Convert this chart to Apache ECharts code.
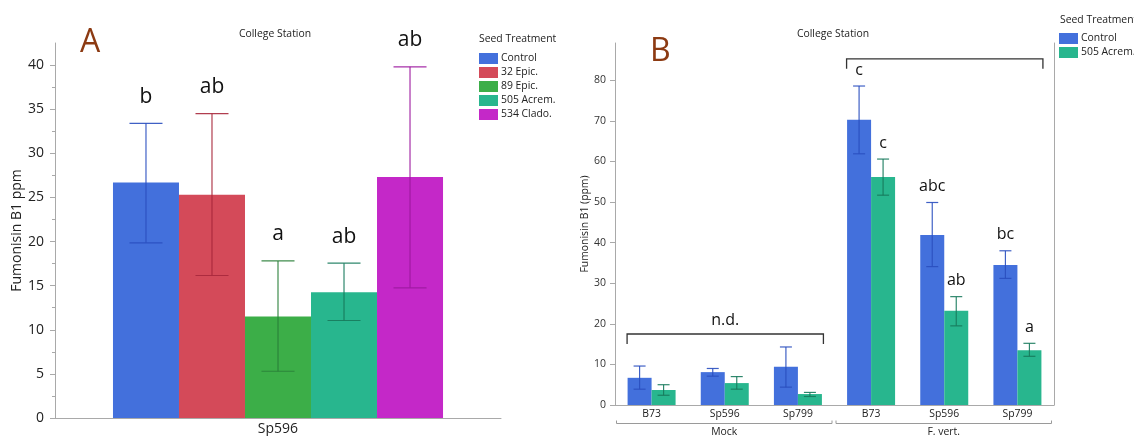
<!DOCTYPE html>
<html>
<head>
<meta charset="utf-8">
<script src="https://cdn.jsdelivr.net/npm/echarts@6/dist/echarts.min.js"></script>
<style>
  html, body { margin: 0; padding: 0; background: #fff; }
  #chart { width: 1134px; height: 436px; }
</style>
</head>
<body>
<div id="chart"></div>
<script>
// ---------- Panel A: hybrid Sp596, five seed treatments ----------
const hybridA = ['Sp596'];
const treatmentsA = ['Control', '32 Epic.', '89 Epic.', '505 Acrem.', '534 Clado.'];
const meanA  = [26.7, 25.3, 11.5, 14.25, 27.3];
const upperA = [33.4, 34.5, 17.8, 17.55, 39.8];
const lowerA = [19.85, 16.15, 5.3, 11.05, 14.75];
const lettersA = ['b', 'ab', 'a', 'ab', 'ab'];
const ticksA = [0, 5, 10, 15, 20, 25, 30, 35, 40];
const minorTicksA = [2.5, 7.5, 12.5, 17.5, 22.5, 27.5, 32.5, 37.5];

// ---------- Panel B: three hybrids, mock vs F. vert. inoculation ----------
const hybridsB = ['B73', 'Sp596', 'Sp799', 'B73', 'Sp596', 'Sp799'];
const treatmentsB = ['Control', '505 Acrem.'];
const controlB      = [6.7, 8.1, 9.4, 70.3, 41.9, 34.5];
const controlUpperB = [9.6, 9.0, 14.3, 78.6, 49.9, 38.0];
const controlLowerB = [3.9, 7.1, 4.4, 61.9, 34.1, 31.2];
const controlLettersB = ['', '', '', 'c', 'abc', 'bc'];
const acremB      = [3.7, 5.4, 2.7, 56.2, 23.2, 13.5];
const acremUpperB = [5.0, 7.0, 3.1, 60.6, 26.7, 15.2];
const acremLowerB = [2.4, 3.9, 2.1, 51.7, 19.5, 12.0];
const acremLettersB = ['', '', '', 'c', 'ab', 'a'];
const ticksB = [0, 10, 20, 30, 40, 50, 60, 70, 80];
// group brackets under the category axis
const groupNamesB = ['Mock', 'F. vert.'];
const groupStartB = [0, 3];
const groupEndB   = [2, 5];
// significance brackets above the bars
const bracketStartB = [0, 3];
const bracketEndB   = [2, 5];
const bracketLevelB = [17.5, 85.3];
const bracketTextB  = ['n.d.', ''];

// ---------- styling ----------
const FONT = '"Open Sans", "Noto Sans", sans-serif';
const SMALL = 10.4;
const AXIS_GREY = '#a9a9a9';
const barColors = {
  'Control': '#4370DC', '32 Epic.': '#D44A59', '89 Epic.': '#3CAE48',
  '505 Acrem.': '#28B68E', '534 Clado.': '#C428C8'
};
const errColors = {
  'Control': '#2A4FBF', '32 Epic.': '#A8283C', '89 Epic.': '#2A8038',
  '505 Acrem.': '#177A5C', '534 Clado.': '#9C189E'
};
const GAP_A = 0.26, GAP_B = 0.344;

// error bar (with cap at both ends) plus a letter label above the upper cap
function errorBars(name, axisIdx, yIdx, upper, lower, letters, slot, nSlots, gap, fontSize, lift) {
  return {
    type: 'custom', name: name + ' err', xAxisIndex: axisIdx, yAxisIndex: yIdx, z: 5, silent: true,
    data: upper.map((u, i) => [i, u, lower[i], letters[i]]),
    encode: { x: 0, y: [1, 2] },
    renderItem(params, api) {
      const i = api.value(0);
      const hi = api.coord([i, api.value(1)]);
      const lo = api.coord([i, api.value(2)]);
      const band = api.size([1, 0])[0];
      const barW = band * (1 - gap) / nSlots;
      const cx = hi[0] + (slot - (nSlots - 1) / 2) * barW;
      const half = barW / 4;
      const stroke = { stroke: errColors[name], lineWidth: 1.2, opacity: 0.9 };
      const letter = letters[params.dataIndex];
      const children = [
        { type: 'line', shape: { x1: cx, y1: hi[1], x2: cx, y2: lo[1] }, style: stroke },
        { type: 'line', shape: { x1: cx - half, y1: hi[1], x2: cx + half, y2: hi[1] }, style: stroke },
        { type: 'line', shape: { x1: cx - half, y1: lo[1], x2: cx + half, y2: lo[1] }, style: stroke }
      ];
      if (letter) {
        children.push({
          type: 'text',
          style: { text: letter, x: cx, y: hi[1] - lift, align: 'center', verticalAlign: 'bottom',
                   fontSize: fontSize, fontFamily: FONT, fill: '#111' }
        });
      }
      return { type: 'group', children };
    }
  };
}

const series = [];
treatmentsA.forEach((t, k) => {
  series.push({
    type: 'bar', name: t, xAxisIndex: 0, yAxisIndex: 0,
    barGap: '0%', barCategoryGap: (GAP_A * 100) + '%',
    itemStyle: { color: barColors[t] },
    data: [meanA[k]]
  });
});
treatmentsA.forEach((t, k) => {
  series.push(errorBars(t, 0, 0, [upperA[k]], [lowerA[k]], [lettersA[k]], k, treatmentsA.length, GAP_A, 21, 16));
});

series.push({
  type: 'bar', name: 'Control', xAxisIndex: 1, yAxisIndex: 2,
  barGap: '0%', barCategoryGap: (GAP_B * 100) + '%',
  itemStyle: { color: barColors['Control'] }, data: controlB
});
series.push({
  type: 'bar', name: '505 Acrem.', xAxisIndex: 1, yAxisIndex: 2,
  barGap: '0%', barCategoryGap: (GAP_B * 100) + '%',
  itemStyle: { color: barColors['505 Acrem.'] }, data: acremB
});
series.push(errorBars('Control', 1, 2, controlUpperB, controlLowerB, controlLettersB, 0, 2, GAP_B, 16, 8));
series.push(errorBars('505 Acrem.', 1, 2, acremUpperB, acremLowerB, acremLettersB, 1, 2, GAP_B, 16, 8));

// significance brackets with optional caption
series.push({
  type: 'custom', name: 'brackets', xAxisIndex: 1, yAxisIndex: 2, z: 6, silent: true,
  data: bracketStartB.map((s, i) => [s, bracketEndB[i], bracketLevelB[i]]),
  encode: { x: [0, 1], y: 2 },
  renderItem(params, api) {
    const a = api.coord([api.value(0), api.value(2)]);
    const b = api.coord([api.value(1), api.value(2)]);
    const band = api.size([1, 0])[0];
    const halfPair = band * (1 - GAP_B) / 2;
    const x0 = a[0] - halfPair - 0.5, x1 = b[0] + halfPair + 1.5, y = a[1];
    const children = [{
      type: 'polyline',
      shape: { points: [[x0, y + 10], [x0, y], [x1, y], [x1, y + 10]] },
      style: { stroke: '#333', lineWidth: 1.3, fill: null }
    }];
    const txt = bracketTextB[params.dataIndex];
    if (txt) {
      children.push({
        type: 'text',
        style: { text: txt, x: (x0 + x1) / 2, y: y - 6, align: 'center', verticalAlign: 'bottom',
                 fontSize: 16, fontFamily: FONT, fill: '#111' }
      });
    }
    return { type: 'group', children };
  }
});

// group labels (Mock / F. vert.) beneath the hybrid labels
series.push({
  type: 'custom', name: 'groups', xAxisIndex: 1, yAxisIndex: 2, z: 6, silent: true,
  data: groupStartB.map((s, i) => [s, groupEndB[i], 0]),
  encode: { x: [0, 1], y: 2 },
  renderItem(params, api) {
    const a = api.coord([api.value(0), 0]);
    const b = api.coord([api.value(1), 0]);
    const band = api.size([1, 0])[0];
    const x0 = a[0] - band / 2 + 1.5, x1 = b[0] + band / 2 - 2.5, y = a[1] + 18.5;
    return {
      type: 'group',
      children: [
        { type: 'polyline', shape: { points: [[x0, y - 3], [x0, y], [x1, y], [x1, y - 3]] },
          style: { stroke: '#9a9a9a', lineWidth: 1, fill: null } },
        { type: 'text', style: { text: groupNamesB[params.dataIndex], x: (x0 + x1) / 2, y: y + 9,
            align: 'center', verticalAlign: 'middle', fontSize: SMALL, fontFamily: FONT, fill: '#222' } }
      ]
    };
  }
});

const legendBase = {
  orient: 'vertical', itemWidth: 19, itemHeight: 11, itemGap: 3, padding: 0,
  icon: 'rect', selectedMode: false,
  textStyle: { fontSize: SMALL, color: '#222', fontFamily: FONT, padding: [0, 0, 0, -2] }
};

const option = {
  animation: false,
  backgroundColor: '#fff',
  textStyle: { fontFamily: FONT },
  grid: [
    { left: 55, right: 1134 - 501, top: 43, bottom: 436 - 418 },
    { left: 615, right: 1134 - 1054, top: 43, bottom: 436 - 405 }
  ],
  xAxis: [
    { type: 'category', gridIndex: 0, data: hybridA,
      axisLine: { lineStyle: { color: AXIS_GREY } }, axisTick: { show: false },
      axisLabel: { fontSize: 14, color: '#222', margin: 4, fontFamily: FONT } },
    { type: 'category', gridIndex: 1, data: hybridsB,
      axisLine: { lineStyle: { color: AXIS_GREY } }, axisTick: { show: false },
      axisLabel: { fontSize: SMALL, color: '#222', margin: 4, fontFamily: FONT, interval: 0 } }
  ],
  yAxis: [
    { type: 'value', gridIndex: 0, min: 0, max: 42.5,
      name: 'Fumonisin B1 ppm', nameLocation: 'middle', nameGap: 28,
      nameTextStyle: { fontSize: 14, color: '#222', fontFamily: FONT },
      axisLine: { show: true, lineStyle: { color: AXIS_GREY } },
      axisTick: { show: true, length: 5, customValues: ticksA, lineStyle: { color: AXIS_GREY } },
      axisLabel: { fontSize: 14, color: '#222', margin: 11, customValues: ticksA, fontFamily: FONT },
      splitLine: { show: false } },
    { type: 'value', gridIndex: 0, min: 0, max: 42.5, position: 'left',
      axisLine: { show: false },
      axisTick: { show: true, length: 3, customValues: minorTicksA, lineStyle: { color: AXIS_GREY } },
      axisLabel: { show: false }, splitLine: { show: false } },
    { type: 'value', gridIndex: 1, min: 0, max: 89.2,
      name: 'Fumonisin B1 (ppm)', nameLocation: 'middle', nameGap: 23,
      nameTextStyle: { fontSize: SMALL, color: '#222', fontFamily: FONT },
      axisLine: { show: true, lineStyle: { color: AXIS_GREY } },
      axisTick: { show: true, length: 5, customValues: ticksB, lineStyle: { color: AXIS_GREY } },
      axisLabel: { fontSize: 10.5, color: '#333', margin: 9, customValues: ticksB, fontFamily: FONT },
      splitLine: { show: false } },
    { type: 'value', gridIndex: 1, min: 0, max: 89.2, position: 'right',
      axisLine: { show: true, lineStyle: { color: AXIS_GREY } },
      axisTick: { show: false }, axisLabel: { show: false }, splitLine: { show: false } }
  ],
  legend: [
    Object.assign({}, legendBase, { left: 479, top: 53, data: treatmentsA }),
    Object.assign({}, legendBase, { left: 1059, top: 33, data: treatmentsB })
  ],
  graphic: [
    { type: 'text', left: 80, top: 27, style: { text: 'A', fontSize: 32, fill: '#8C3A12', fontFamily: FONT } },
    { type: 'text', left: 650, top: 36, style: { text: 'B', fontSize: 32, fill: '#8C3A12', fontFamily: FONT } },
    { type: 'text', x: 275, y: 34, style: { text: 'College Station', fontSize: SMALL, fill: '#222', fontFamily: FONT, align: 'center', verticalAlign: 'middle' } },
    { type: 'text', x: 833, y: 34, style: { text: 'College Station', fontSize: SMALL, fill: '#222', fontFamily: FONT, align: 'center', verticalAlign: 'middle' } },
    { type: 'text', x: 479, y: 39, style: { text: 'Seed Treatment', fontSize: SMALL, fill: '#222', fontFamily: FONT, align: 'left', verticalAlign: 'middle' } },
    { type: 'text', x: 1060, y: 20, style: { text: 'Seed Treatment', fontSize: SMALL, fill: '#222', fontFamily: FONT, align: 'left', verticalAlign: 'middle' } }
  ],
  series
};

const chart = echarts.init(document.getElementById('chart'), null, { renderer: 'canvas' });
chart.setOption(option);
</script>
</body>
</html>
